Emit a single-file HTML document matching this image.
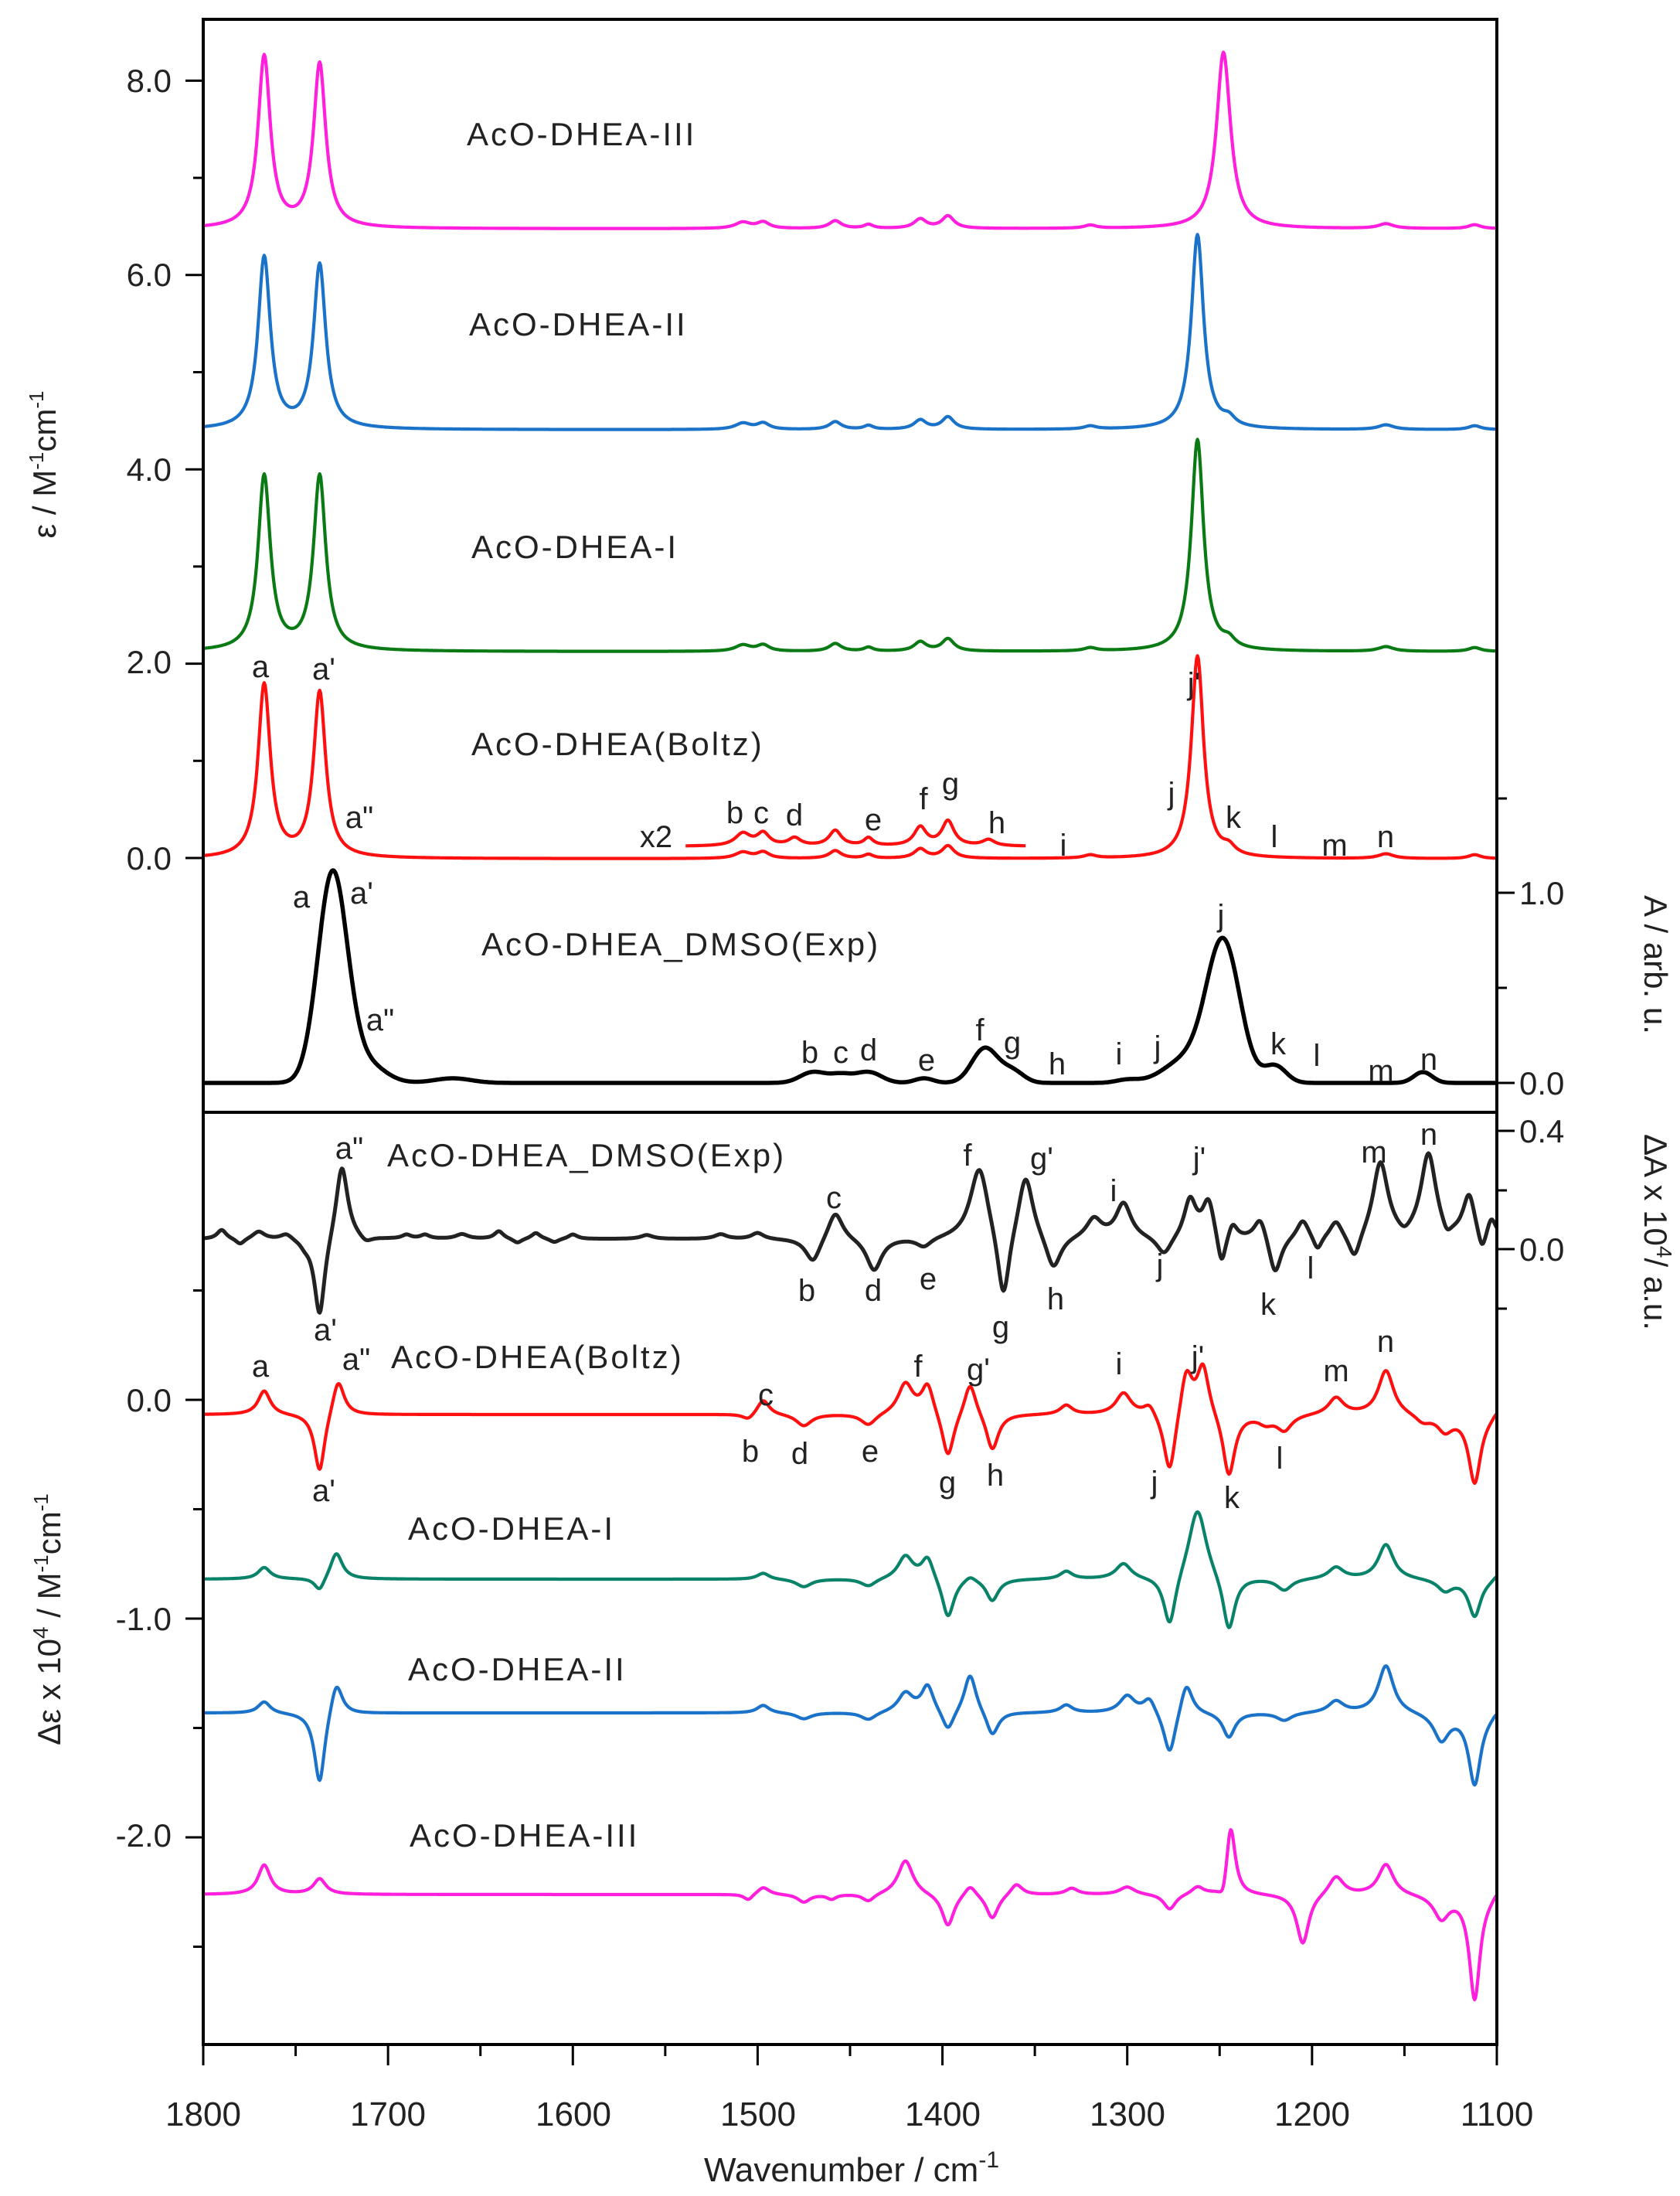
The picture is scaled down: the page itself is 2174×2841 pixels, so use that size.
<!DOCTYPE html>
<html><head><meta charset="utf-8"><style>
html,body{margin:0;padding:0;background:#fff;}
svg{display:block;font-family:"Liberation Sans",sans-serif;}
</style></head><body>
<svg id="s" width="2174" height="2841" viewBox="0 0 2174 2841" xmlns="http://www.w3.org/2000/svg">
<rect width="2174" height="2841" fill="#fff"/>
<g id="curves" fill="none" stroke-linejoin="round"></g>
<g stroke="#000" stroke-width="4" fill="none">
<rect x="263" y="25" width="1674" height="2620"/>
<line x1="263" y1="1439" x2="1937" y2="1439"/>
</g>
<g id="ticks" stroke="#000" stroke-width="3"></g>
<g font-size="42" fill="#222" text-anchor="end">
<text x="222" y="119">8.0</text><text x="222" y="370">6.0</text><text x="222" y="622">4.0</text>
<text x="222" y="871">2.0</text><text x="222" y="1125">0.0</text>
<text x="222" y="1826">0.0</text><text x="222" y="2109">-1.0</text><text x="222" y="2389">-2.0</text>
</g>
<g font-size="42" fill="#222" text-anchor="start">
<text x="1966" y="1170">1.0</text><text x="1966" y="1416">0.0</text>
<text x="1966" y="1478">0.4</text><text x="1966" y="1631">0.0</text>
</g>
<g font-size="44" fill="#222" text-anchor="middle">
<text x="263" y="2750">1800</text><text x="502" y="2750">1700</text><text x="742" y="2750">1600</text>
<text x="981" y="2750">1500</text><text x="1220" y="2750">1400</text><text x="1459" y="2750">1300</text>
<text x="1698" y="2750">1200</text><text x="1937" y="2750">1100</text>
<text x="1102" y="2822">Wavenumber / cm<tspan font-size="30" dy="-18">-1</tspan></text>
</g>
<g font-size="42" fill="#222" text-anchor="middle">
<text transform="translate(72,601) rotate(-90)">ε / M<tspan font-size="26" dy="-16">-1</tspan><tspan dy="16">cm</tspan><tspan font-size="26" dy="-16">-1</tspan></text>
<text transform="translate(78,2095) rotate(-90)">Δε x 10<tspan font-size="28" dy="-16">4</tspan><tspan dy="16"> / M</tspan><tspan font-size="26" dy="-16">-1</tspan><tspan dy="16">cm</tspan><tspan font-size="26" dy="-16">-1</tspan></text>
<text transform="translate(2128,1248) rotate(90)">A / arb. u.</text>
<text transform="translate(2128,1594) rotate(90)">ΔA x 10<tspan font-size="28" dy="-16">4</tspan><tspan dy="16">/ a.u.</tspan></text>
</g>
<g font-size="42" fill="#222" letter-spacing="3">
<text x="604" y="188">AcO-DHEA-III</text>
<text x="607" y="434">AcO-DHEA-II</text>
<text x="610" y="722">AcO-DHEA-I</text>
<text x="610" y="977">AcO-DHEA(Boltz)</text>
<text x="623" y="1236">AcO-DHEA_DMSO(Exp)</text>
<text x="501" y="1509">AcO-DHEA_DMSO(Exp)</text>
<text x="506" y="1770">AcO-DHEA(Boltz)</text>
<text x="528" y="1992">AcO-DHEA-I</text>
<text x="528" y="2174">AcO-DHEA-II</text>
<text x="530" y="2389">AcO-DHEA-III</text>
</g>
<g font-size="40" fill="#222" text-anchor="middle" id="lbl"></g>
</svg>
<script>
var NS="http://www.w3.org/2000/svg";
function X(w){return 263+(1800-w)*2.3914;}
function L(w,c,h,g){return h*g*g/((w-c)*(w-c)+g*g);}
function G(w,c,h,s){return h*Math.exp(-(w-c)*(w-c)/(2*s*s));}
function curve(base,peaks,col,sw,w0,w1,mult){
  w0=w0||1800;w1=w1||1100;mult=mult||1;
  var d="";
  for(var w=w0;w>=w1-0.01;w-=0.5){
    var y=0;
    for(var i=0;i<peaks.length;i++){var p=peaks[i];
      y+= (p[3]=='g')?G(w,p[0],p[1],p[2]):L(w,p[0],p[1],p[2]);}
    d+=(d?"L":"M")+X(w).toFixed(1)+" "+(base-y*mult).toFixed(1);
  }
  var pa=document.createElementNS(NS,"path");
  pa.setAttribute("d",d);pa.setAttribute("stroke",col);pa.setAttribute("stroke-width",sw);
  document.getElementById("curves").appendChild(pa);
}
var small=[[1508,8,5],[1497,8,4],[1458,10,4],[1440,5,3],[1412,12,4],[1397,16,4],[1320,4,4],[1245,10,4],[1160,6,5],[1112,5,4]];
curve(296,[[1767,222,4],[1737,212,4],[1248,222,4.5]].concat(small),"#ff1fdc",4.2);
curve(556,[[1767,222,4],[1737,212,4],[1262,252,4]].concat(small),"#1a73c9",4.2);
curve(843,[[1767,226,4],[1737,226,4],[1262,274,4]].concat(small),"#0a7a14",4.2);
var rp=[[1767,224,4],[1737,214,4],[1262,262,4]].concat(small);
curve(1111,rp,"#ff1010",4.2);
var rs=[[1508,8,5],[1497,8,4],[1480,5,4],[1458,10,4],[1440,5,3],[1412,12,4],[1397,16,4],[1375,4,4]];
curve(1095,rs,"#ff1010",4.2,1539,1355,2);
curve(1401,[[1730,270,8,'g'],[1712,25,10,'g'],[1665,6,10,'g'],[1470,14,7,'g'],[1455,10,6,'g'],[1440,14,7,'g'],[1410,6,5,'g'],[1377,45,7,'g'],[1362,15,6,'g'],[1300,4,6,'g'],[1268,30,12,'g'],[1248,180,9,'g'],[1220,22,6,'g'],[1140,14,5,'g']],"#000",5.5);
var bk=[[1790,12,3],[1780,-8,3],[1770,10,4],[1755,8,4],[1745,-6,3],[1737,-105,3.5],[1725,100,4],[1712,-8,4],[1690,5,3],[1680,5,3],[1660,6,4],[1640,10,3],[1630,-6,3],[1620,8,3],[1610,-5,3],[1600,6,3],[1560,5,4],[1520,6,4],[1500,8,4],
[1470,-32,5],[1458,38,5],[1437,-42,5],[1410,-12,5],[1380,95,6],[1367,-95,4],[1355,85,5],[1340,-45,5],[1318,25,5],[1302,45,5],[1280,-25,5],[1266,50,4],[1256,50,4],[1249,-45,3],[1243,20,3],[1228,30,4],[1220,-50,4],[1205,25,4],[1197,-20,3],[1187,22,4],[1177,-35,4],[1163,98,5],[1150,-10,4],[1137,108,5],[1127,-15,3],[1115,55,4],[1108,-30,3],[1103,25,3]];
curve(1603,bk,"#222",5);
curve(1830,[[1767,31,4],[1737,-78,3.5],[1727,48,4],[1505,-8,4],[1497,20,4],[1475,-15,5],[1440,-15,5],[1420,40,5],[1408,40,4],[1397,-60,4],[1385,45,4],[1373,-48,4],[1333,12,4],[1302,28,5],[1288,15,4],[1277,-82,4],[1268,60,4],[1259,65,4],[1245,-82,4],[1225,-10,5],[1215,-20,5],[1187,22,5],[1160,58,5],[1140,-10,5],[1128,-20,5],[1112,-88,4],[1100,10,3]],"#ff1010",4.2);
curve(2043,[[1767,15,4],[1737,-18,3.5],[1728,35,4],[1497,8,4],[1475,-10,5],[1440,-10,5],[1420,30,5],[1408,30,4],[1397,-52,4],[1385,8,4],[1373,-28,4],[1333,10,4],[1302,20,5],[1277,-68,4],[1262,95,6],[1245,-72,4],[1215,-15,5],[1187,15,5],[1160,45,5],[1128,-15,5],[1112,-48,4],[1100,8,3]],"#08836a",4.2);
curve(2216,[[1767,15,4],[1737,-95,3.5],[1728,45,4],[1497,10,4],[1475,-8,5],[1440,-10,5],[1420,25,5],[1408,35,4],[1397,-28,4],[1385,52,4],[1373,-32,4],[1333,10,4],[1300,22,5],[1288,20,4],[1277,-58,4],[1268,42,4],[1245,-32,4],[1215,-10,5],[1187,15,5],[1160,62,5],[1130,-35,5],[1112,-92,4],[1100,8,3]],"#1a73c9",4.2);
curve(2451,[[1767,38,4],[1737,20,4],[1505,-8,3],[1497,10,4],[1475,-10,4],[1460,-6,3],[1440,-10,4],[1420,45,5],[1397,-42,4],[1385,15,4],[1373,-32,4],[1360,15,4],[1330,8,4],[1300,10,5],[1277,-20,4],[1262,10,4],[1248,-22,3],[1244,92,3],[1205,-65,4],[1187,25,5],[1160,40,5],[1130,-30,5],[1112,-135,3.5],[1100,10,3]],"#ff1fdc",4.2);
var t=document.getElementById("ticks"),h="";
function ln(a,b,c,d){h+='<line x1="'+a+'" y1="'+b+'" x2="'+c+'" y2="'+d+'"/>';}
for(var v=0;v<=8;v++){var y=1110-v*125.7;ln(263,y,v%2?250:240,y);}
for(var v=0.5;v>=-2.5;v-=0.5){var y=1811-v*283;ln(263,y,(Math.abs(v*2)%2==1)?250:240,y);}
[1033,1155,1278,1401].forEach(function(y,i){ln(1937,y,(i%2)?1960:1950,y);});
[1463,1540,1616,1693].forEach(function(y,i){ln(1937,y,(i%2)?1950:1960,y);});
for(var w=1800;w>=1100;w-=50){var x=X(w);ln(x,2645,x,(w%100==0)?2672:2660);}
t.innerHTML=h;
var lb=[["a",337,876],["a'",419,879],["a\"",465,1071],["x2",849,1096],["b",951,1065],["c",985,1065],["d",1028,1068],["e",1130,1074],["f",1195,1047],["g",1230,1027],["h",1290,1078],["i",1376,1107],["j",1516,1040],["j'",1545,898],["k",1596,1071],["l",1649,1096],["m",1727,1107],["n",1793,1096],
["a",390,1174],["a'",468,1169],["a\"",492,1333],["j",1580,1198],["b",1048,1375],["c",1088,1375],["d",1124,1372],["e",1199,1385],["f",1268,1346],["g",1310,1362],["h",1368,1390],["i",1448,1377],["j",1498,1368],["k",1654,1364],["l",1704,1379],["m",1787,1399],["n",1849,1384],
["a\"",452,1499],["c",1079,1563],["b",1044,1683],["d",1130,1683],["e",1201,1668],["f",1252,1508],["g'",1348,1512],["i",1441,1554],["j'",1552,1512],["m",1778,1504],["n",1849,1481],["g",1295,1730],["h",1366,1694],["j",1501,1650],["k",1641,1701],["l",1696,1654],["a'",421,1734],
["a",337,1781],["a\"",461,1772],["c",991,1818],["b",971,1891],["d",1035,1894],["e",1126,1891],["f",1188,1781],["g'",1266,1785],["i",1448,1778],["j'",1550,1769],["m",1729,1787],["n",1793,1749],["g",1226,1931],["h",1288,1922],["j",1494,1931],["k",1594,1951],["l",1656,1900],["a'",419,1942]];
var g=document.getElementById("lbl"),s="";
lb.forEach(function(l){s+='<text x="'+l[1]+'" y="'+l[2]+'">'+l[0].replace('"','&quot;')+'</text>';});
g.innerHTML=s;
</script>
</body></html>
